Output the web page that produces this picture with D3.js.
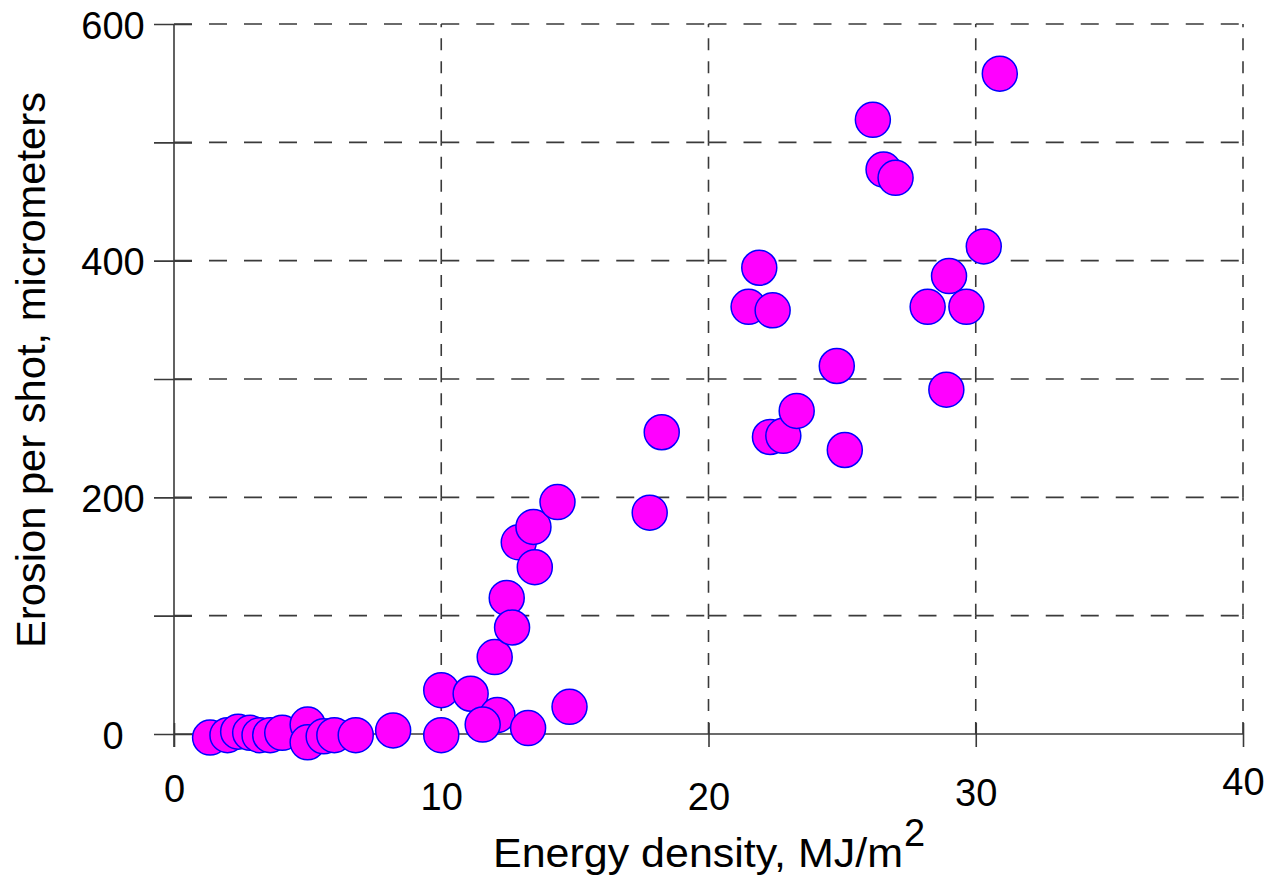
<!DOCTYPE html>
<html><head><meta charset="utf-8">
<script src="https://cdn.jsdelivr.net/npm/d3@7"></script>
<style>
body{margin:0;background:#fff}
svg{display:block}
text{font-family:"Liberation Sans",Arial,sans-serif;fill:#000}
</style>
</head><body><svg id="c" width="1266" height="876"></svg>
<script>
const energyDensity = [1.35,2.0,2.4,2.85,3.2,3.6,4.05,5.0,5.0,5.6,6.0,6.8,8.2,10.0,10.0,11.1,12.1,11.55,13.25,14.8,12.0,12.45,12.65,12.9,13.45,13.5,14.35,17.8,18.25,21.5,21.9,22.4,22.3,22.8,23.3,24.8,25.1,26.15,26.55,27.0,28.2,28.9,29.0,29.65,30.3,30.9];
const erosion       = [-3,-1,2,1,-1,-1,1,8,-7,-2,-1,-1,3,-1,37,34,16,8,5,23,65,115,90,162,175,141,196,187,255,361,394,358,251,252,273,311,240,519,477,470,361,291,387,361,412,558];
const xTicks = [0,10,20,30,40];
const yTicks = [0,100,200,300,400,500,600];
const yTickLabels = ["0","","200","","400","","600"];
const xTickLabels = ["0","10","20","30","40"];
const xTitle = "Energy density, MJ/m";
const xTitleSup = "2";
const yTitle = "Erosion per shot, micrometers";

const svg = d3.select("#c");
const x = d3.scaleLinear().domain([0,40]).range([174,1243]);
const y = d3.scaleLinear().domain([0,600]).range([734,24]);
const gridColor = "#3a3a3a";

// grid (dashed, segment per cell)
const grid = svg.append("g");
yTicks.slice(1).forEach(v=>{
  for(let i=0;i<xTicks.length-1;i++){
    grid.append("line").attr("x1",x(xTicks[i])).attr("x2",x(xTicks[i+1]))
      .attr("y1",y(v)).attr("y2",y(v))
      .attr("stroke",gridColor).attr("stroke-width",1.6).attr("stroke-dasharray","18,17");
  }
});
xTicks.slice(1).forEach(v=>{
  for(let i=0;i<yTicks.length-1;i++){
    grid.append("line").attr("x1",x(v)).attr("x2",x(v))
      .attr("y1",y(yTicks[i])).attr("y2",y(yTicks[i+1]))
      .attr("stroke",gridColor).attr("stroke-width",1.6).attr("stroke-dasharray","12,11");
  }
});

// axes
const yAxis = svg.append("g").attr("transform",`translate(${x(0)},0)`)
  .call(d3.axisLeft(y).tickValues(yTicks).tickSize(20).tickFormat((d,i)=>yTickLabels[i]));
yAxis.select(".domain").remove();
yAxis.selectAll(".tick line").attr("x1",18).attr("stroke",gridColor).attr("stroke-width",1.6);
yAxis.selectAll(".tick text").attr("x",-61).attr("text-anchor","middle").attr("dy",null).attr("y",14)
  .style("font-size","38px").attr("fill","#000");
svg.append("line").attr("x1",x(0)).attr("x2",x(0)).attr("y1",y(600)).attr("y2",y(0)+13)
  .attr("stroke",gridColor).attr("stroke-width",1.6);

const labelDy = [68,76,76,72,61];
const xAxis = svg.append("g").attr("transform",`translate(0,${y(0)})`)
  .call(d3.axisBottom(x).tickValues(xTicks).tickSize(13).tickFormat((d,i)=>xTickLabels[i]));
xAxis.select(".domain").remove();
xAxis.selectAll(".tick line").attr("y1",-11).attr("stroke",gridColor).attr("stroke-width",1.6);
xAxis.selectAll(".tick text").attr("dy",null).attr("y",(d,i)=>labelDy[i])
  .style("font-size","38px").attr("fill","#000");
svg.append("line").attr("x1",x(0)).attr("x2",x(40)).attr("y1",y(0)).attr("y2",y(0))
  .attr("stroke",gridColor).attr("stroke-width",1.6);

// points
const pts = energyDensity.map((e,i)=>({e, v:erosion[i]}));
svg.append("g").selectAll("circle").data(pts).join("circle")
  .attr("cx",d=>x(d.e)).attr("cy",d=>y(d.v)).attr("r",17.5)
  .attr("fill","#ff00ff").attr("stroke","#0000ff").attr("stroke-width",1.5);

// titles
svg.append("text").attr("x",493).attr("y",867).style("font-size","40px")
  .attr("textLength",410).attr("lengthAdjust","spacingAndGlyphs").text(xTitle);
svg.append("text").attr("x",904).attr("y",846).style("font-size","38px").text(xTitleSup);
svg.append("text").attr("transform","translate(45,370) rotate(-90)").attr("text-anchor","middle")
  .style("font-size","41px").attr("textLength",556).attr("lengthAdjust","spacingAndGlyphs").text(yTitle);
</script>
</body></html>
